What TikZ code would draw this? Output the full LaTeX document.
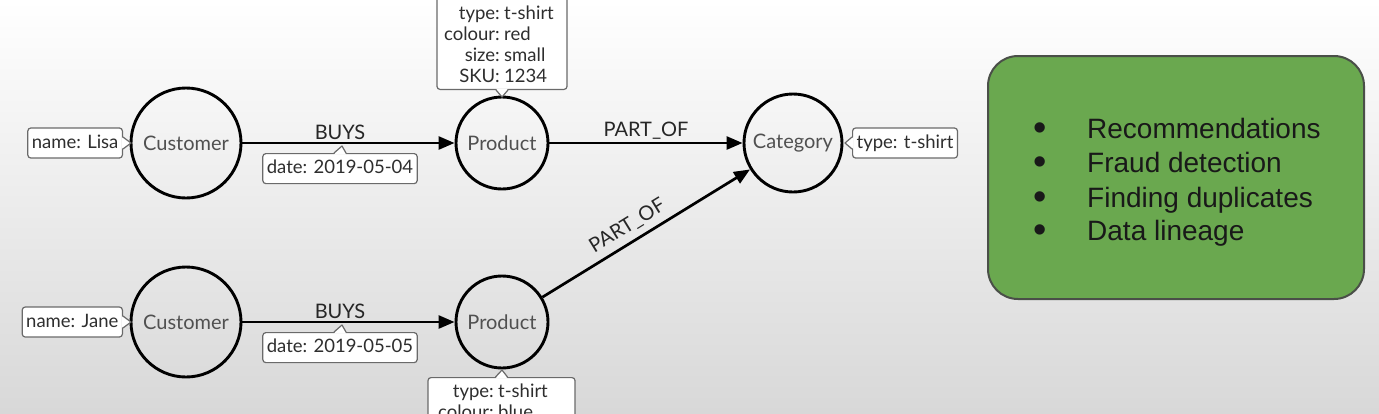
\documentclass[tikz,border=0pt]{standalone}
\usepackage{fontspec}
\setmainfont{Lato}
\newfontfamily\arialfont{Liberation Sans}
\usetikzlibrary{arrows.meta,calc}
\definecolor{nodetext}{HTML}{505050}
\definecolor{proptext}{HTML}{2E2E2E}
\definecolor{propborder}{HTML}{6A6A6A}
\definecolor{boxgreen}{HTML}{6AA84F}
\definecolor{boxborder}{HTML}{4A4F48}
\definecolor{bgbottom}{HTML}{D8D8D8}
\definecolor{bgmid}{HTML}{F3F3F3}
% #1 base point, #2 tip, #3 half-width vector, #4 inward vector
\newcommand\propnotch[4]{%
  \fill[white] ($(#1)+(#3)+(#4)$) -- (#2) -- ($(#1)-(#3)+(#4)$) -- cycle;
  \draw[propline] ($(#1)+(#3)$) -- (#2) -- ($(#1)-(#3)$);
}
\begin{document}
\begin{tikzpicture}[x=1pt,y=-1pt,
  ent/.style={circle, draw=black, line width=2.9pt, text=nodetext,
    font=\fontsize{20}{23}\selectfont, inner sep=0pt},
  rel/.style={line width=2.7pt, -{Triangle[length=16pt,width=13pt]}},
  lbl/.style={text=black!85, font=\fontsize{20}{23}\selectfont, inner sep=2pt},
  propbase/.style={draw=propborder, line width=1.2pt, rounded corners=3pt,
    fill=white, text=proptext, font=\fontsize{18.5}{21}\selectfont},
  prop/.style={propbase, inner xsep=4pt, inner ysep=6pt, text height=14pt, text depth=4pt},
  proptxt/.style={text=proptext, font=\fontsize{18.5}{21}\selectfont, inner sep=0pt},
  propline/.style={draw=propborder, line width=1.2pt, line join=round},
  uctext/.style={text=black!90, font=\arialfont\fontsize{28}{32}\selectfont, inner sep=0pt},
  ucbullet/.style={text=black!90, font=\arialfont\fontsize{38}{40}\selectfont, inner sep=0pt},
]
\useasboundingbox (0,0) rectangle (1379,413);
\clip (0,0) rectangle (1379,413);
\shade[top color=white, middle color=bgmid, bottom color=bgbottom] (0,0) rectangle (1379,413);

% entities
\node[ent, minimum size=110pt] (cust1) at (186,143) {Customer};
\node[ent, minimum size=92pt]  (prod1) at (502,143) {Product};
\node[ent, minimum size=98pt]  (cat)   at (793,143) {Category};
\node[ent, minimum size=110pt] (cust2) at (186,322) {Customer};
\node[ent, minimum size=92pt]  (prod2) at (502,322) {Product};

% relationships
\draw[rel] (cust1) -- (prod1) node[lbl, pos=0.46, above=0pt] (buys1) {BUYS};
\draw[rel] (prod1) -- (cat) node[lbl, midway, above=0pt] (partof1) {PART\_OF};
\draw[rel] (cust2) -- (prod2) node[lbl, pos=0.46, above=0pt] (buys2) {BUYS};
\draw[rel] (prod2) -- (cat) node[lbl, pos=0.45, above=4pt, sloped] (partof2) {PART\_OF};

% properties
\node[prop, anchor=east] (lisa) at (123,143) {name: Lisa};
\coordinate (lisatip) at (131,143);
\propnotch{lisa.east}{lisatip}{0,6}{-1.5,0}

\node[prop, anchor=east] (jane) at (123,322) {name: Jane};
\coordinate (janetip) at (131,322);
\propnotch{jane.east}{janetip}{0,6}{-1.5,0}

\node[prop, anchor=north] (date1) at (340,153) {date: 2019-05-04};
\coordinate (date1tip) at (342,146);
\propnotch{date1.north}{date1tip}{6,0}{0,1.5}

\node[prop, anchor=north] (date2) at (340,332) {date: 2019-05-05};
\coordinate (date2tip) at (342,325);
\propnotch{date2.north}{date2tip}{6,0}{0,1.5}

\node[prop, anchor=west] (catprops) at (852,143) {type: t-shirt};
\coordinate (cattip) at (845,143);
\propnotch{catprops.west}{cattip}{0,6}{1.5,0}

\node[propbase, anchor=south, minimum width=130pt, minimum height=110pt] (p1box) at (502,90) {};
\coordinate (p1tip) at (502,97);
\propnotch{p1box.south}{p1tip}{6,0}{0,-1.5}
\node[proptxt, anchor=north east] (p1keys) at (500,5)
  {\begin{tabular}{@{}r@{}}type:\\colour:\\size:\\SKU:\end{tabular}};
\node[proptxt, anchor=north west] (p1vals) at (504,5)
  {\begin{tabular}{@{}l@{}}t-shirt\\red\\small\\1234\end{tabular}};

\node[propbase, anchor=north, minimum width=147pt, minimum height=80pt] (p2box) at (501.5,377) {};
\coordinate (p2tip) at (502,370);
\propnotch{p2box.north}{p2tip}{6,0}{0,1.5}
\node[proptxt, anchor=north east] (p2keys) at (494,383)
  {\begin{tabular}{@{}r@{}}type:\\colour:\end{tabular}};
\node[proptxt, anchor=north west] (p2vals) at (498,383)
  {\begin{tabular}{@{}l@{}}t-shirt\\blue\end{tabular}};

% use cases box
\node[draw=boxborder, line width=2pt, fill=boxgreen, rounded corners=30pt,
  minimum width=376pt, minimum height=243pt, anchor=north west] (usecases) at (987,55) {};
\node[ucbullet, anchor=base] (b1) at (1040,140) {•};
\node[ucbullet, anchor=base] (b2) at (1040,174) {•};
\node[ucbullet, anchor=base] (b3) at (1040,209) {•};
\node[ucbullet, anchor=base] (b4) at (1040,242) {•};
\node[uctext, anchor=base west] (t1) at (1087,138) {Recommendations};
\node[uctext, anchor=base west] (t2) at (1087,172) {Fraud detection};
\node[uctext, anchor=base west] (t3) at (1087,207) {Finding duplicates};
\node[uctext, anchor=base west] (t4) at (1087,240) {Data lineage};
\end{tikzpicture}
\end{document}
